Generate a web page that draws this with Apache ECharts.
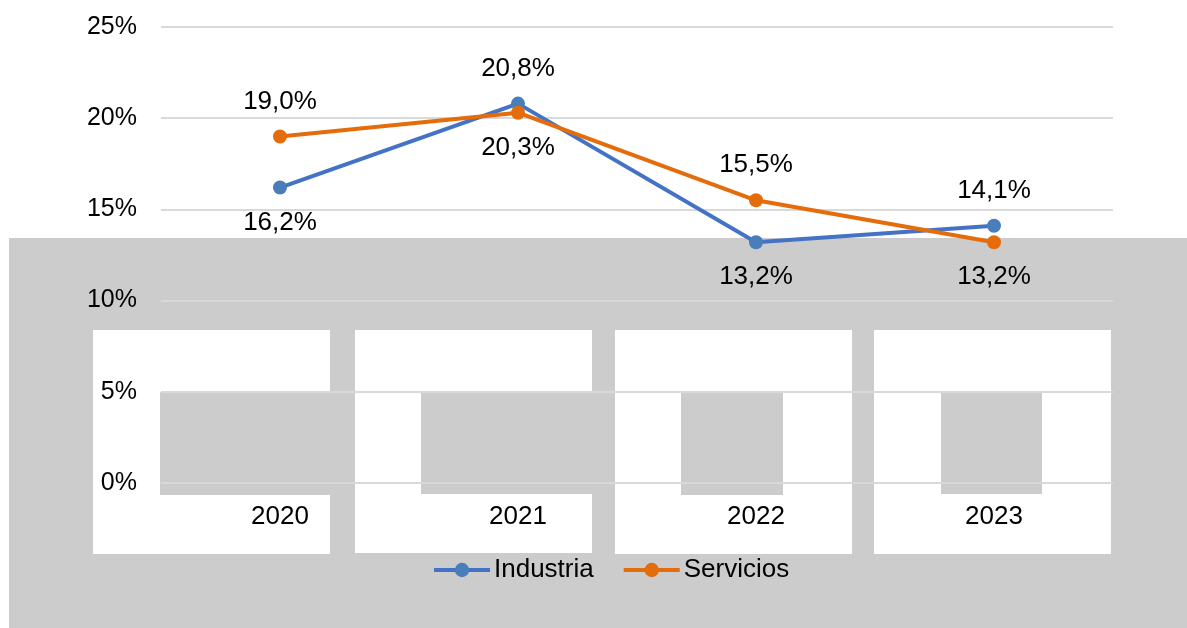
<!DOCTYPE html>
<html>
  <head>
    <meta charset="utf-8" />
    <title>Industria vs Servicios</title>
    <script src="https://cdn.jsdelivr.net/npm/echarts@6/dist/echarts.min.js"></script>
    <style>
      html,
      body,
      #main {
        padding: 0;
        margin: 0;
        width: 1187px;
        height: 628px;
        background: #fff;
      }
    </style>
  </head>
  <body>
    <div id="main"></div>
    <script>
      var years = ["2020", "2021", "2022", "2023"];
      var industria = [16.2, 20.8, 13.2, 14.1];
      var servicios = [19.0, 20.3, 15.5, 13.2];
      var seriesNames = ["Industria", "Servicios"];

      var font = "Liberation Sans, Arial, sans-serif";

      function fmt(v) {
        return v.toFixed(1).replace(".", ",") + "%";
      }

      // higher point of each year gets its label on top, the lower one below
      function buildData(vals, other) {
        return vals.map(function (v, i) {
          return {
            value: v,
            label: { position: v >= other[i] ? "top" : "bottom" }
          };
        });
      }

      // grey blocks that sit behind the plot in the reference
      var gray = "#cccccc";
      function rect(x, y, w, h, fill) {
        return {
          type: "rect",
          z: -100,
          silent: true,
          shape: { x: x, y: y, width: w, height: h },
          style: { fill: fill }
        };
      }
      var blocks = [
        rect(9, 238, 1178, 390, gray),
        rect(93, 330, 237, 224, "#fff"),
        rect(355, 330, 237, 223, "#fff"),
        rect(615, 330, 237, 224, "#fff"),
        rect(874, 330, 237, 224, "#fff"),
        rect(160, 392, 193, 103, gray),
        rect(421, 391, 192, 103, gray),
        rect(681, 392, 102, 103, gray),
        rect(941, 392, 101, 102, gray)
      ];

      var labelOpt = {
        show: true,
        fontSize: 26,
        color: "#000",
        distance: 15,
        fontFamily: font,
        formatter: function (p) { return fmt(p.value); }
      };

      var chart = echarts.init(document.getElementById("main"));
      chart.setOption({
        animation: false,
        textStyle: { fontFamily: font },
        graphic: { elements: blocks },
        grid: { left: 161, right: 74, top: 27, bottom: 145 },
        legend: {
          bottom: 45,
          left: 432,
          padding: 0,
          itemWidth: 56,
          itemHeight: 18,
          itemGap: 28,
          lineStyle: { width: 4 },
          textStyle: { fontSize: 26, color: "#000", fontFamily: font, padding: [0, 0, 0, -1] },
          data: seriesNames
        },
        xAxis: {
          type: "category",
          data: years,
          boundaryGap: true,
          axisLine: { show: false },
          axisTick: { show: false },
          axisLabel: { fontSize: 26, color: "#000", margin: 21, fontFamily: font }
        },
        yAxis: {
          type: "value",
          min: 0,
          max: 25,
          interval: 5,
          axisLine: { show: false },
          axisTick: { show: false },
          axisLabel: { fontSize: 25, color: "#000", margin: 24, fontFamily: font, formatter: "{value}%" },
          splitLine: { lineStyle: { color: "#d9d9d9", width: 2 } }
        },
        series: [
          {
            name: seriesNames[0],
            type: "line",
            data: buildData(industria, servicios),
            symbol: "circle",
            symbolSize: 14,
            lineStyle: { color: "#4472c4", width: 4 },
            itemStyle: { color: "#4a7ebb" },
            label: labelOpt,
            z: 3
          },
          {
            name: seriesNames[1],
            type: "line",
            data: buildData(servicios, industria),
            symbol: "circle",
            symbolSize: 14,
            lineStyle: { color: "#e46c0a", width: 4 },
            itemStyle: { color: "#e46c0a" },
            label: labelOpt,
            z: 4
          }
        ]
      });
    </script>
  </body>
</html>
